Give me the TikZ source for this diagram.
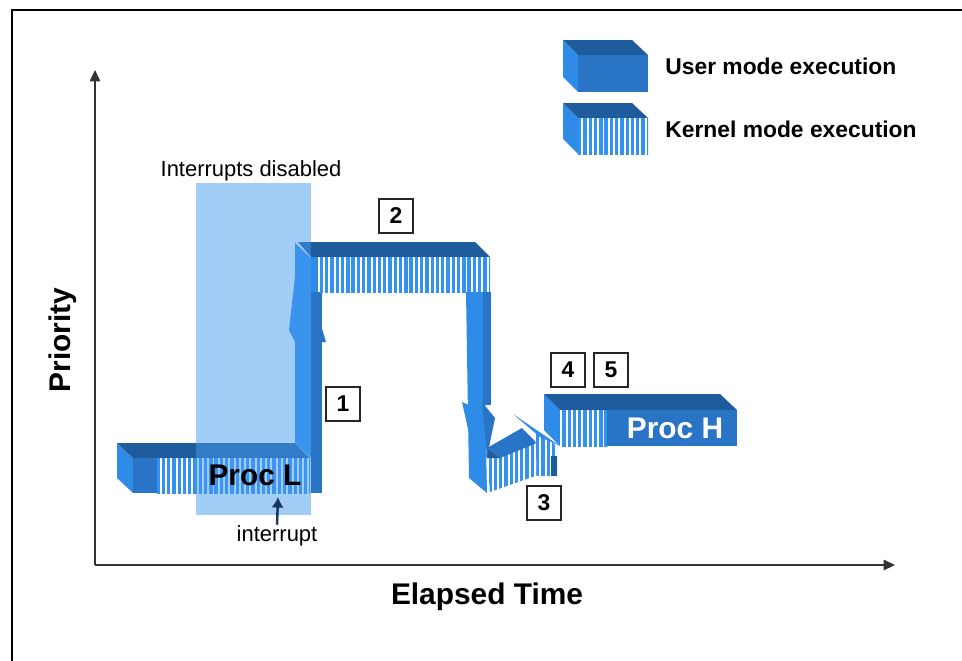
\documentclass[tikz,border=0pt]{standalone}
\usepackage{fontspec}
\setmainfont{Liberation Sans}
\usetikzlibrary{positioning,arrows.meta,patterns.meta}
\definecolor{topblue}{RGB}{31,92,158}
\definecolor{userblue}{RGB}{42,116,198}
\definecolor{sideblue}{RGB}{47,139,232}
\definecolor{stripeblue}{RGB}{51,145,240}
\definecolor{maskblue}{RGB}{70,155,240}
\definecolor{irqblue}{RGB}{28,52,96}
\tikzset{
	topface/.style={fill=topblue},
	userface/.style={fill=userblue},
	sideface/.style={fill=sideblue},
	kernelface/.style={preaction={fill=white}, pattern={Lines[angle=90, distance=3pt, line width=1.9pt]}, pattern color=stripeblue},
	maskbox/.style={fill=maskblue, fill opacity=0.5, inner sep=0pt},
	numbox/.style={draw=black!85, line width=0.9pt, fill=white, minimum width=0.68cm, minimum height=0.68cm, inner sep=0pt, font=\bfseries\fontsize{13}{15}\selectfont},
	axis/.style={draw=black!80, line width=0.7pt, -{Triangle[length=6.5pt, width=6pt]}},
	bigtext/.style={inner sep=0pt, anchor=base, font=\bfseries\fontsize{17}{20}\selectfont},
	legendtext/.style={inner sep=0pt, anchor=base west, font=\bfseries\fontsize{13}{15}\selectfont},
	smalltext/.style={inner sep=0pt, anchor=base, font=\fontsize{12.5}{15}\selectfont}
}
\begin{document}
\begin{tikzpicture}[x=0.02cm, y=-0.02cm]
		\useasboundingbox (0,0) rectangle (962,660);
		% Frame, axes and legend:
		\draw[line width=1.7pt] (12,664) -- (12,10) -- (966,10);
		\coordinate (origin) at (95,565);
		\coordinate (ytip) at (95,70);
		\coordinate (xtip) at (895,565);
		\draw[axis] (origin) -- (ytip);
		\draw[axis] (origin) -- (xtip);
		\node[bigtext, anchor=center, rotate=90] (prio) at (63,340) {Priority};
		\node[bigtext] (elapsed) at (487,604) {Elapsed Time};
		\fill[sideface] (563,40) -- (578,55) -- (578,92) -- (563,77) -- cycle;
		\fill[topface] (563,40) -- (632,40) -- (648,55) -- (578,55) -- cycle;
		\fill[userface] (578,55) rectangle (648,92);
		\fill[sideface] (563,103) -- (578,118) -- (578,154) -- (563,139) -- cycle;
		\fill[topface] (563,103) -- (632,103) -- (648,118) -- (578,118) -- cycle;
		\fill[kernelface] (578,118) rectangle (648,154);
		\node[legendtext] (userlbl) at (665,74) {User mode execution};
		\node[legendtext] (kernlbl) at (665,137) {Kernel mode execution};
		% Proc L and riser 1:
		\fill[sideface] (117,443) -- (133,458) -- (133,493) -- (117,478) -- cycle;
		\fill[topface] (117,443) -- (295,443) -- (310,458) -- (133,458) -- cycle;
		\fill[userface] (133,458) rectangle (157,493);
		\fill[kernelface] (157,458) rectangle (310,493);
		\fill[sideface] (295,243) -- (311,258) -- (311,458) -- (295,443) -- cycle;
		\fill[sideface] (311,257) rectangle (318,292);
		\fill[userface] (311,292) rectangle (322,493);
		\fill[sideface] (298,250) -- (289,330) -- (295,342) -- (311,342) -- (311,258) -- cycle;
		\fill[userface] (313,298) -- (326,342) -- (311,342) -- cycle;
		% Top bar 2 and descent:
		\fill[topface] (298,242) -- (475,242) -- (490,257) -- (311,257) -- cycle;
		\fill[kernelface] (318,257) rectangle (490,292);
		\fill[sideface] (466,292) -- (483,292) -- (487,493) -- (469,478) -- cycle;
		\fill[userface] (483,292) rectangle (491,405);
		% Proc H:
		\fill[sideface] (544,394) -- (560,410) -- (560,446) -- (544,430) -- cycle;
		\fill[topface] (544,394) -- (720,394) -- (737,410) -- (560,410) -- cycle;
		\fill[kernelface] (560,410) rectangle (607,446);
		\fill[userface] (607,410) rectangle (737,446);
		% Step 3:
		\fill[kernelface] (487,458) -- (537,443) -- (538,475) -- (490,492) -- cycle;
		\fill[userface] (487,448) -- (522,428) -- (537,443) -- (500,458) -- cycle;
		\fill[topface] (487,448) -- (500,458) -- (487,458) -- cycle;
		\fill[kernelface] (535,430) -- (557,446) -- (557,476) -- (537,476) -- cycle;
		\fill[topface] (551,456) rectangle (557,476);
		\fill[sideface] (513,414) -- (560,446) -- (540,437) -- cycle;
		\fill[sideface] (462,402) -- (482,411) -- (487,457) -- (470,438) -- cycle;
		\fill[userface] (482,402) -- (495,418) -- (487,457) -- cycle;
		% Interrupts disabled:
		\node[maskbox, minimum width=2.3cm, minimum height=6.64cm] (nomask) at (253.5,349) {};
		\node[smalltext] (masklbl) at (251,176) {Interrupts disabled};
		\node[smalltext] (irqlbl) at (277,541) {interrupt};
		\coordinate (irq) at (278,497);
		\draw[irqblue, line width=1.4pt, -{Latex[length=6pt, width=7pt]}] (irqlbl.north) -- (irq);
		\node[bigtext] (procl) at (255,485) {Proc L};
		\node[bigtext, text=white] (proch) at (675,438) {Proc H};
		% Step numbers:
		\node[numbox] (n1) at (343,404) {1};
		\node[numbox] (n2) at (396,216) {2};
		\node[numbox] (n3) at (544,503) {3};
		\node[numbox] (n4) at (568,370) {4};
		\node[numbox] (n5) at (611,370) {5};
	\end{tikzpicture}
\end{document}
